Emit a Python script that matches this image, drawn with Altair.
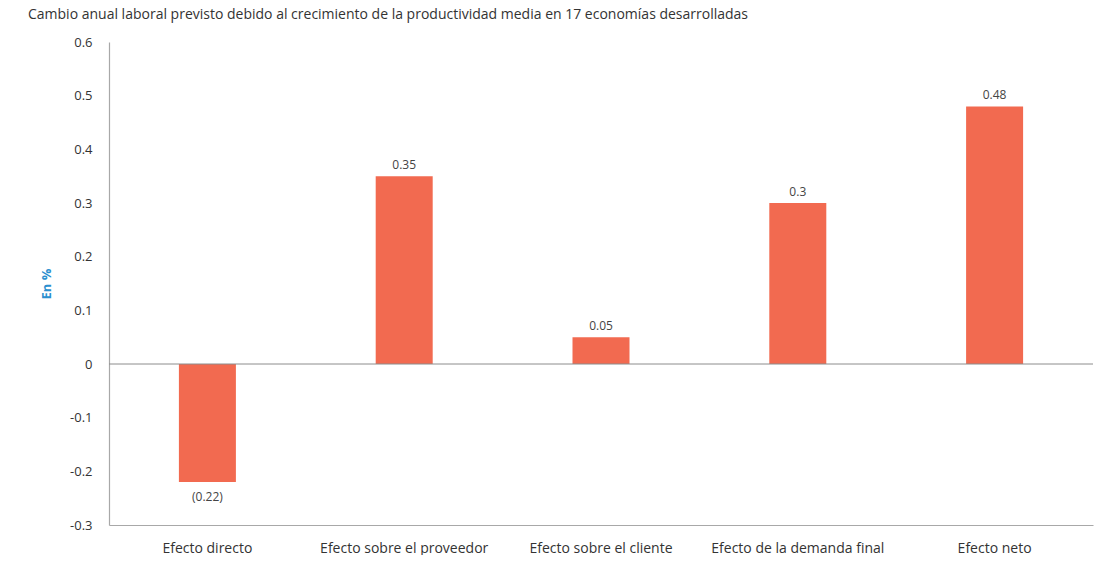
import altair as alt
import pandas as pd

title_text = "Cambio anual laboral previsto debido al crecimiento de la productividad media en 17 economías desarrolladas"
categories = ["Efecto directo", "Efecto sobre el proveedor", "Efecto sobre el cliente",
              "Efecto de la demanda final", "Efecto neto"]
values = [-0.22, 0.35, 0.05, 0.30, 0.48]
value_labels = ["(0.22)", "0.35", "0.05", "0.3", "0.48"]

df = pd.DataFrame({"cat": categories, "val": values, "lab": value_labels})

FONT = "Open Sans"
BAR = "#F26A50"

x = alt.X("cat:N", sort=categories, title=None,
          scale=alt.Scale(paddingInner=0.0, paddingOuter=0.0),
          axis=alt.Axis(labelAngle=0, ticks=False, labelPadding=16, labelFontSize=14,
                        labelColor="#333333", labelFont=FONT, domainColor="#a8a8a8",
                        domainWidth=1.2, labelLimit=300))
y = alt.Y("val:Q", title="En %",
          scale=alt.Scale(domain=[-0.3, 0.6], nice=False, zero=False),
          axis=alt.Axis(values=[-0.3, -0.2, -0.1, 0, 0.1, 0.2, 0.3, 0.4, 0.5, 0.6],
                        labelExpr="datum.value == 0 ? '0' : (datum.value < 0 ? '-' + format(-datum.value, '.1f') : format(datum.value, '.1f'))",
                        grid=False, ticks=False, labelPadding=17, labelFontSize=13,
                        labelColor="#333333", labelFont=FONT, domainColor="#a8a8a8",
                        domainWidth=1.2, titleColor="#2b8fcf", titleFont=FONT,
                        titleFontSize=13, titleFontWeight="bold", titlePadding=16))

bars = alt.Chart(df).mark_bar(color=BAR, size=57).encode(x=x, y=y)

zero = alt.Chart(pd.DataFrame({"z": [0]})).mark_rule(color="#8c8c8c", strokeWidth=1).encode(y="z:Q")

pos_text = alt.Chart(df).transform_filter("datum.val >= 0").mark_text(
    dy=-11, fontSize=12, color="#444444", font=FONT).encode(
    x=alt.X("cat:N", sort=categories), y="val:Q", text="lab:N")
neg_text = alt.Chart(df).transform_filter("datum.val < 0").mark_text(
    dy=15, fontSize=12, color="#444444", font=FONT).encode(
    x=alt.X("cat:N", sort=categories), y="val:Q", text="lab:N")

title = alt.Chart(pd.DataFrame({"t": [title_text]})).mark_text(
    align="left", baseline="middle", fontSize=14, color="#333333", font=FONT).encode(
    x=alt.value(-81), y=alt.value(-27), text="t:N")

chart = alt.layer(bars, zero, pos_text, neg_text, title).properties(
    width=984, height=483,
    autosize=alt.AutoSizeParams(type="none"),
    padding={"left": 101, "top": 34, "right": 2, "bottom": 30},
).configure_view(stroke=None)

chart.save("out.html", embed_options={"renderer": "svg", "actions": False})
